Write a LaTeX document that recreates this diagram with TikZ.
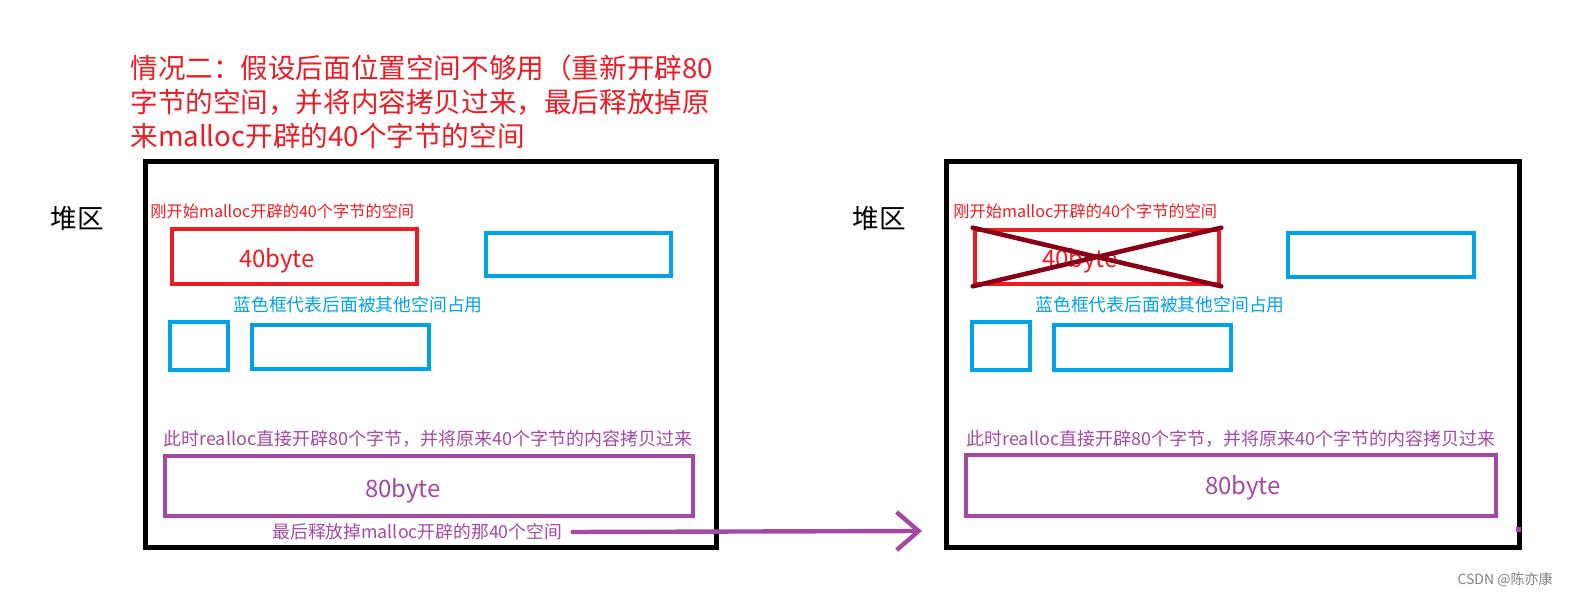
\documentclass[tikz,border=0pt]{standalone}
\usepackage{fontspec}
\setmainfont{Noto Sans CJK SC}
\usepackage{tikz}
\usetikzlibrary{arrows.meta,positioning}

\definecolor{pred}{HTML}{ED1C24}
\definecolor{pblue}{HTML}{00A2E8}
\definecolor{ppurple}{HTML}{A349A4}
\definecolor{pdark}{HTML}{880015}

\begin{document}
\begin{tikzpicture}[
  x=0.5pt, y=-0.5pt,
  heap/.style={draw=black, line width=2.5pt, minimum width=#1, minimum height=193pt, inner sep=0pt},
  blk/.style={draw=#1, line width=2.3pt, inner sep=0pt},
  note/.style={font=\fontsize{8.9pt}{10pt}\selectfont, inner sep=0pt, anchor=west, text=#1},
  big/.style={font=\fontsize{12pt}{14pt}\selectfont, inner sep=0pt, text=#1},
  lbl/.style={font=\fontsize{13.3pt}{16pt}\selectfont, inner sep=0pt},
  arr/.style={-{Straight Barb[length=11pt, width=19pt, line width=2.2pt]}, line width=2.2pt, line cap=round, ppurple}
]
\useasboundingbox (0,0) rectangle (1570,597);

% title
\node[lbl, text=pred, anchor=north west, align=left, font=\fontsize{13.8pt}{17pt}\selectfont] (title) at (130,54)
  {情况二：假设后面位置空间不够用（重新开辟80\\字节的空间，并将内容拷贝过来，最后释放掉原\\来malloc开辟的40个字节的空间};

% left heap
\node[lbl] (heapL) at (77,218) {堆区};
\node[heap=285.5pt] (boxL) at (430.5,355) {};
\node[note=pred, font=\fontsize{8.1pt}{10pt}\selectfont] (oldL) at (150,211) {刚开始malloc开辟的40个字节的空间};
\node[blk=pred, minimum width=122.5pt, minimum height=27.5pt] (r40L) at (294.5,256.5) {};
\node[big=pred] (t40L) at (277,261) {40byte};
\node[blk=pblue, minimum width=92.5pt, minimum height=21.5pt] (b1L) at (578.5,254.5) {};
\node[note=pblue] (usedL) at (233,305) {蓝色框代表后面被其他空间占用};
\node[blk=pblue, minimum width=29pt, minimum height=24pt] (b2L) at (199,346) {};
\node[blk=pblue, minimum width=88.5pt, minimum height=22pt] (b3L) at (340.5,347) {};
\node[note=ppurple, font=\fontsize{9pt}{10pt}\selectfont] (reL) at (163,439) {此时realloc直接开辟80个字节，并将原来40个字节的内容拷贝过来};
\node[blk=ppurple, minimum width=264pt, minimum height=30pt] (r80L) at (429,486) {};
\node[big=ppurple] (t80L) at (403,491) {80byte};
\node[note=ppurple] (freeL) at (272,532) {最后释放掉malloc开辟的那40个空间};

% right heap
\node[lbl] (heapR) at (879,218) {堆区};
\node[heap=286.5pt] (boxR) at (1232.5,355) {};
\node[note=pred, font=\fontsize{8.1pt}{10pt}\selectfont] (oldR) at (953,211) {刚开始malloc开辟的40个字节的空间};
\node[blk=pred, minimum width=122pt, minimum height=27pt] (r40R) at (1097,257) {};
\node[big=pred] (t40R) at (1080,261) {40byte};
\draw[pdark, line width=2.3pt, line cap=round] (r40R.north west) -- (r40R.south east);
\draw[pdark, line width=2.3pt, line cap=round] (r40R.south west) -- (r40R.north east);
\node[blk=pblue, minimum width=93pt, minimum height=22pt] (b1R) at (1381,255) {};
\node[note=pblue] (usedR) at (1035,305) {蓝色框代表后面被其他空间占用};
\node[blk=pblue, minimum width=29pt, minimum height=24pt] (b2R) at (1001,346) {};
\node[blk=pblue, minimum width=88.5pt, minimum height=22.5pt] (b3R) at (1142.5,347.5) {};
\node[note=ppurple, font=\fontsize{9pt}{10pt}\selectfont] (reR) at (966,439) {此时realloc直接开辟80个字节，并将原来40个字节的内容拷贝过来};
\node[blk=ppurple, minimum width=265pt, minimum height=30.5pt] (r80R) at (1231,485.5) {};
\node[big=ppurple] (t80R) at (1243,488) {80byte};
\node[fill=ppurple, minimum size=2.5pt, inner sep=0pt] (dot) at (1518,530) {};

% arrow between the two heaps
\coordinate (tip) at (922,531);
\draw[arr] ([xshift=5pt]freeL.east) -- (tip);

\node[font=\fontsize{7pt}{8pt}\selectfont, text=gray, anchor=east, inner sep=0pt] (mark) at (1553,580) {CSDN @陈亦康};
\end{tikzpicture}
\end{document}
